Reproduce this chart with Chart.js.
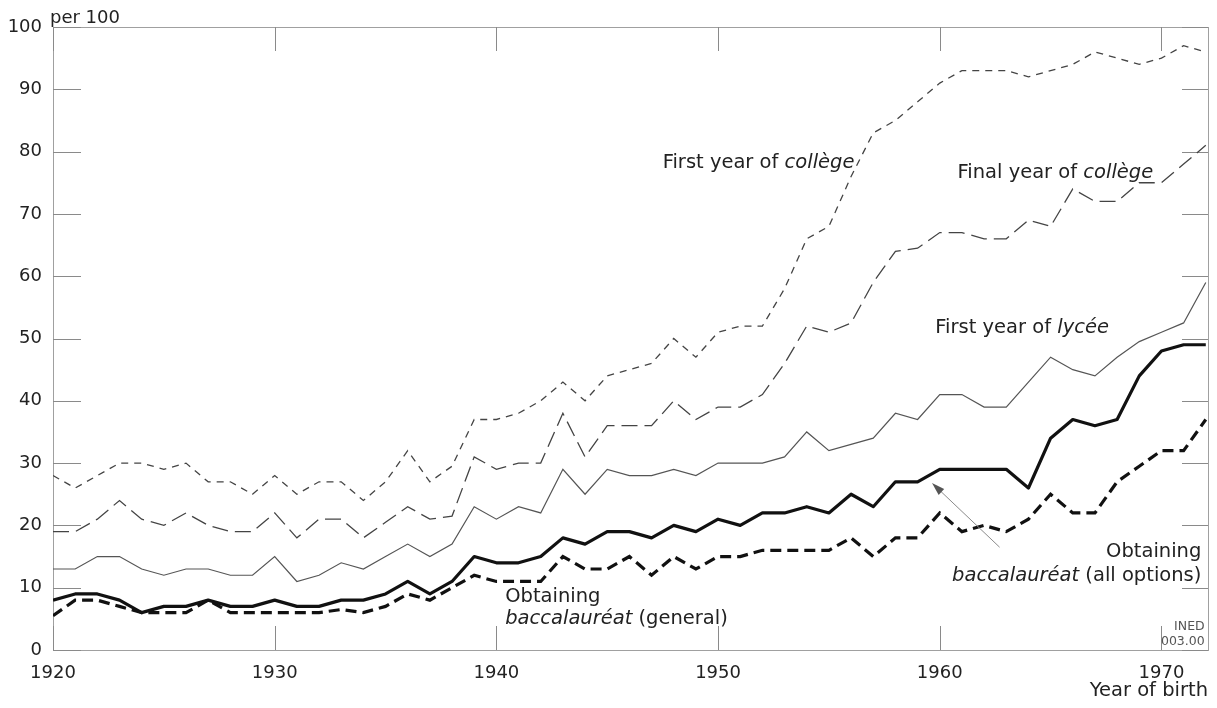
<!DOCTYPE html>
<html>
<head>
<meta charset="utf-8">
<script src="https://cdn.jsdelivr.net/npm/chart.js@4/dist/chart.umd.min.js"></script>
<style>
  html, body { margin: 0; padding: 0; background: #fff; }
  #chart { display: block; }
</style>
</head>
<body>
<canvas id="chart" width="1217" height="708"></canvas>
<script>
// Access to each level of schooling, per 100 of each birth cohort (1920-1972)
var years = [
  1920, 1921, 1922, 1923, 1924, 1925, 1926, 1927, 1928, 1929,
  1930, 1931, 1932, 1933, 1934, 1935, 1936, 1937, 1938, 1939,
  1940, 1941, 1942, 1943, 1944, 1945, 1946, 1947, 1948, 1949,
  1950, 1951, 1952, 1953, 1954, 1955, 1956, 1957, 1958, 1959,
  1960, 1961, 1962, 1963, 1964, 1965, 1966, 1967, 1968, 1969,
  1970, 1971, 1972
];

var firstYearCollege = [
  28, 26, 28, 30, 30, 29, 30, 27, 27, 25,
  28, 25, 27, 27, 24, 27, 32, 27, 29.5, 37,
  37, 38, 40, 43, 40, 44, 45, 46, 50, 47,
  51, 52, 52, 58, 66, 68, 76, 83, 85, 88,
  91, 93, 93, 93, 92, 93, 94, 96, 95, 94,
  95, 97, 96
];

var finalYearCollege = [
  19, 19, 21, 24, 21, 20, 22, 20, 19, 19,
  22, 18, 21, 21, 18, 20.5, 23, 21, 21.5, 31,
  29, 30, 30, 38, 31, 36, 36, 36, 40, 37,
  39, 39, 41, 46, 52, 51, 52.5, 59, 64, 64.5,
  67, 67, 66, 66, 69, 68, 74, 72, 72, 75,
  75, 78, 81
];

var firstYearLycee = [
  13, 13, 15, 15, 13, 12, 13, 13, 12, 12,
  15, 11, 12, 14, 13, 15, 17, 15, 17, 23,
  21, 23, 22, 29, 25, 29, 28, 28, 29, 28,
  30, 30, 30, 31, 35, 32, 33, 34, 38, 37,
  41, 41, 39, 39, 43, 47, 45, 44, 47, 49.5,
  51, 52.5, 59
];

var bacAllOptions = [
  8, 9, 9, 8, 6, 7, 7, 8, 7, 7,
  8, 7, 7, 8, 8, 9, 11, 9, 11, 15,
  14, 14, 15, 18, 17, 19, 19, 18, 20, 19,
  21, 20, 22, 22, 23, 22, 25, 23, 27, 27,
  29, 29, 29, 29, 26, 34, 37, 36, 37, 44,
  48, 49, 49
];

var bacGeneral = [
  5.5, 8, 8, 7, 6, 6, 6, 8, 6, 6,
  6, 6, 6, 6.5, 6, 7, 9, 8, 10, 12,
  11, 11, 11, 15, 13, 13, 15, 12, 15, 13,
  15, 15, 16, 16, 16, 16, 18, 15, 18, 18,
  22, 19, 20, 19, 21, 25, 22, 22, 27, 29.5,
  32, 32, 37
];

var xTicks = [1920, 1930, 1940, 1950, 1960, 1970];
var yTicks = [0, 10, 20, 30, 40, 50, 60, 70, 80, 90, 100];

var FONT = '"DejaVu Sans", sans-serif';
var TEXT = '#222';

// labels written on the plot, placed in data units (year, per 100)
var notes = [
  { x: 1947.5, y: 78.2, align: 'left', runs: [['First year of ', ''], ['collège', 'italic']] },
  { x: 1960.8, y: 76.6, align: 'left', runs: [['Final year of ', ''], ['collège', 'italic']] },
  { x: 1959.8, y: 51.7, align: 'left', runs: [['First year of ', ''], ['lycée', 'italic']] },
  { x: 1971.8, y: 15.7, align: 'right', runs: [['Obtaining', '']] },
  { x: 1971.8, y: 11.9, align: 'right', runs: [['baccalauréat', 'italic'], [' (all options)', '']] },
  { x: 1940.4, y: 8.5, align: 'left', runs: [['Obtaining', '']] },
  { x: 1940.4, y: 5.0, align: 'left', runs: [['baccalauréat', 'italic'], [' (general)', '']] }
];

function pts(values) {
  return years.map(function (yr, i) { return { x: yr, y: values[i] }; });
}

function drawRuns(ctx, runs, x, y, align, size) {
  var widths = runs.map(function (r) {
    ctx.font = (r[1] ? r[1] + ' ' : '') + size + 'px ' + FONT;
    return ctx.measureText(r[0]).width;
  });
  var total = widths.reduce(function (a, b) { return a + b; }, 0);
  var cx = align === 'right' ? x - total : x;
  runs.forEach(function (r, i) {
    ctx.font = (r[1] ? r[1] + ' ' : '') + size + 'px ' + FONT;
    ctx.fillText(r[0], cx, y);
    cx += widths[i];
  });
}

// box round the plot with short inward tick marks on all four sides
var framePlugin = {
  id: 'frame',
  beforeDatasetsDraw: function (chart) {
    var a = chart.chartArea, ctx = chart.ctx;
    var xs = chart.scales.x, ys = chart.scales.y;
    ctx.save();
    ctx.strokeStyle = '#a0a0a0';
    ctx.lineWidth = 1;
    ctx.strokeRect(Math.round(a.left) + 0.5, Math.round(a.top) + 0.5,
      Math.round(a.right - a.left), Math.round(a.bottom - a.top));
    ctx.strokeStyle = '#8a8a8a';
    ctx.beginPath();
    ys.ticks.forEach(function (t) {
      var py = Math.round(ys.getPixelForValue(t.value)) + 0.5;
      ctx.moveTo(a.left, py); ctx.lineTo(a.left + 28, py);
      ctx.moveTo(a.right - 26, py); ctx.lineTo(a.right, py);
    });
    xs.ticks.forEach(function (t) {
      var px = Math.round(xs.getPixelForValue(t.value)) + 0.5;
      ctx.moveTo(px, a.bottom); ctx.lineTo(px, a.bottom - 24);
      ctx.moveTo(px, a.top); ctx.lineTo(px, a.top + 24);
    });
    ctx.stroke();
    ctx.restore();
  }
};

var notesPlugin = {
  id: 'notes',
  afterDatasetsDraw: function (chart) {
    var ctx = chart.ctx, a = chart.chartArea;
    var xs = chart.scales.x, ys = chart.scales.y;
    ctx.save();
    ctx.fillStyle = TEXT;
    ctx.textBaseline = 'middle';
    ctx.textAlign = 'left';
    notes.forEach(function (n) {
      drawRuns(ctx, n.runs, xs.getPixelForValue(n.x), ys.getPixelForValue(n.y), n.align, 19.5);
    });

    // unit above the y axis
    ctx.textBaseline = 'alphabetic';
    drawRuns(ctx, [['per 100', '']], a.left - 3, a.top - 4, 'left', 18);

    // figure reference, bottom right
    ctx.fillStyle = '#555';
    ctx.textBaseline = 'middle';
    drawRuns(ctx, [['INED', '']], xs.getPixelForValue(1971.95), ys.getPixelForValue(3.7), 'right', 12.5);
    drawRuns(ctx, [['003.00', '']], xs.getPixelForValue(1971.95), ys.getPixelForValue(1.3), 'right', 12.5);

    // pointer from the "all options" label to its curve
    var x1 = xs.getPixelForValue(1962.7), y1 = ys.getPixelForValue(16.5);
    var x2 = xs.getPixelForValue(1959.65), y2 = ys.getPixelForValue(26.8);
    var ang = Math.atan2(y2 - y1, x2 - x1);
    ctx.strokeStyle = '#8a8a8a';
    ctx.fillStyle = '#555';
    ctx.lineWidth = 1;
    ctx.beginPath();
    ctx.moveTo(x1, y1);
    ctx.lineTo(x2 - 8 * Math.cos(ang), y2 - 8 * Math.sin(ang));
    ctx.stroke();
    ctx.beginPath();
    ctx.moveTo(x2, y2);
    ctx.lineTo(x2 - 13 * Math.cos(ang) + 4 * Math.sin(ang), y2 - 13 * Math.sin(ang) - 4 * Math.cos(ang));
    ctx.lineTo(x2 - 13 * Math.cos(ang) - 4 * Math.sin(ang), y2 - 13 * Math.sin(ang) + 4 * Math.cos(ang));
    ctx.closePath();
    ctx.fill();
    ctx.restore();
  }
};

new Chart(document.getElementById('chart'), {
  type: 'line',
  data: {
    datasets: [
      { label: 'Obtaining baccalauréat (all options)', data: pts(bacAllOptions),
        borderColor: '#111', borderWidth: 3.2, borderJoinStyle: 'round' },
      { label: 'Obtaining baccalauréat (general)', data: pts(bacGeneral),
        borderColor: '#111', borderWidth: 3.2, borderDash: [11, 6] },
      { label: 'First year of lycée', data: pts(firstYearLycee),
        borderColor: '#555', borderWidth: 1.2 },
      { label: 'Final year of collège', data: pts(finalYearCollege),
        borderColor: '#444', borderWidth: 1.3, borderDash: [16, 7] },
      { label: 'First year of collège', data: pts(firstYearCollege),
        borderColor: '#444', borderWidth: 1.3, borderDash: [7, 6] }
    ]
  },
  options: {
    responsive: false,
    animation: false,
    devicePixelRatio: 1,
    layout: { padding: { top: 27, right: 9, left: 0, bottom: 0 } },
    plugins: { legend: { display: false }, tooltip: { enabled: false } },
    elements: {
      point: { radius: 0 },
      line: { tension: 0, fill: false }
    },
    scales: {
      x: {
        type: 'linear',
        min: 1920,
        max: 1972.1,
        grid: { display: false, drawTicks: false },
        border: { display: false },
        afterBuildTicks: function (s) {
          s.ticks = xTicks.map(function (v) { return { value: v }; });
        },
        afterFit: function (s) { s.height = 58; },
        ticks: {
          padding: 13,
          maxRotation: 0,
          autoSkip: false,
          color: TEXT,
          font: { family: FONT, size: 18 },
          callback: function (v) { return String(v); }
        },
        title: {
          display: true,
          text: 'Year of birth',
          align: 'end',
          color: TEXT,
          font: { family: FONT, size: 19.5 },
          padding: { top: 0, bottom: 5 }
        }
      },
      y: {
        min: 0,
        max: 100,
        grid: { display: false, drawTicks: false },
        border: { display: false },
        afterBuildTicks: function (s) {
          s.ticks = yTicks.map(function (v) { return { value: v }; });
        },
        afterFit: function (s) { s.width = 53; },
        ticks: {
          padding: 11,
          autoSkip: false,
          color: TEXT,
          font: { family: FONT, size: 18 }
        }
      }
    }
  },
  plugins: [framePlugin, notesPlugin]
});
</script>
</body>
</html>
